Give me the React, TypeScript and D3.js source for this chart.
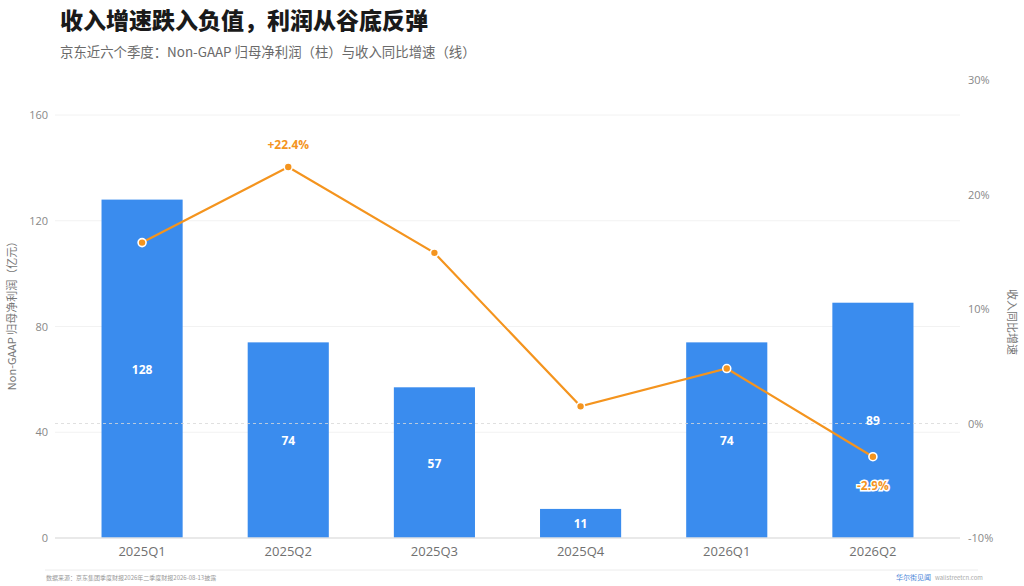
import * as d3 from 'd3';

const quarters = ['2025Q1', '2025Q2', '2025Q3', '2025Q4', '2026Q1', '2026Q2'];
const profit = [128, 74, 57, 11, 74, 89];
const growth = [15.8, 22.4, 14.9, 1.5, 4.8, -2.9];
const profitTicks = [0, 40, 80, 120, 160];
const growthTicks = [-10, 0, 10, 20, 30];

const W = 1024;
const H = 586;
const FONT = '"Noto Sans CJK SC", "Noto Sans", sans-serif';
const TICK_FONT = '"Open Sans", "Noto Sans CJK SC", sans-serif';
const BLUE = '#3a8cee';
const ORANGE = '#f4941e';

export default function App() {
  const x = d3.scaleBand<string>().domain(quarters).range([69, 946]).paddingInner(0.445).paddingOuter(0.2225);
  const yL = d3.scaleLinear().domain([0, 160]).range([538, 115]);
  const yR = d3.scaleLinear().domain([-10, 30]).range([538, 80]);
  const cx = (q: string) => (x(q) ?? 0) + x.bandwidth() / 2;
  const line = d3
    .line<number>()
    .x((_, i) => cx(quarters[i]))
    .y((d) => yR(d));

  return (
    <svg width={W} height={H} style={{ position: 'absolute', left: 0, top: 0, background: '#fff' }} fontFamily={FONT}>
      <text x={60} y={29} fontSize={23} fontWeight={900} fill="#1a1a1a">
        收入增速跌入负值，利润从谷底反弹
      </text>
      <text x={60} y={57} fontSize={13.4} fill="#6a6a6a">
        京东近六个季度：Non-GAAP 归母净利润（柱）与收入同比增速（线）
      </text>

      {/* grid */}
      {profitTicks.slice(1).map((t) => (
        <line key={t} x1={55} x2={960} y1={yL(t)} y2={yL(t)} stroke="#f2f2f2" />
      ))}
      {profitTicks.map((t) => (
        <text key={t} x={48} y={yL(t) + 4} fontSize={11} fill="#888" textAnchor="end" fontFamily={TICK_FONT}>
          {t}
        </text>
      ))}
      {growthTicks.map((t) => (
        <text key={t} x={968} y={yR(t) + 4} fontSize={11} fill="#888" fontFamily={TICK_FONT}>
          {t}%
        </text>
      ))}

      {/* bars */}
      {quarters.map((q, i) => (
        <rect key={q} x={x(q)} y={yL(profit[i])} width={x.bandwidth()} height={yL(0) - yL(profit[i])} fill={BLUE} />
      ))}
      <line x1={55} x2={960} y1={yR(0)} y2={yR(0)} stroke="#d8d8d8" strokeDasharray="3,3" strokeOpacity={0.8} />
      <line x1={55} x2={960} y1={yL(0)} y2={yL(0)} stroke="#e2e2e2" strokeWidth={1.5} />
      {quarters.map((q, i) => (
        <text
          key={q}
          x={cx(q)}
          y={(yL(profit[i]) + yL(0)) / 2 + 5}
          fontSize={12}
          fontWeight={700}
          fill="#fff"
          textAnchor="middle"
          fontFamily={TICK_FONT}
        >
          {profit[i]}
        </text>
      ))}

      {/* line */}
      <path d={line(growth) ?? ''} fill="none" stroke={ORANGE} strokeWidth={2.2} />
      {growth.map((g, i) => (
        <circle key={i} cx={cx(quarters[i])} cy={yR(g)} r={4} fill={ORANGE} stroke="#fff" strokeWidth={1.6} />
      ))}
      <text
        x={cx(quarters[1])}
        y={yR(growth[1]) - 18}
        fontSize={12}
        fontWeight={700}
        fill={ORANGE}
        textAnchor="middle"
        fontFamily={TICK_FONT}
      >
        +{growth[1]}%
      </text>
      <text
        x={cx(quarters[5])}
        y={yR(growth[5]) + 33}
        fontSize={12}
        fontWeight={700}
        fill={ORANGE}
        stroke="#fff"
        strokeWidth={3}
        paintOrder="stroke"
        textAnchor="middle"
        fontFamily={TICK_FONT}
      >
        {growth[5]}%
      </text>

      {/* x axis labels */}
      {quarters.map((q) => (
        <text key={q} x={cx(q)} y={556} fontSize={13} fill="#707070" textAnchor="middle" fontFamily={TICK_FONT}>
          {q}
        </text>
      ))}

      {/* axis titles */}
      <text transform={`translate(16, ${yL(0) - 225}) rotate(-90)`} fontSize={11} fill="#777" textAnchor="middle">
        Non-GAAP 归母净利润（亿元）
      </text>
      <text transform={`translate(1008, 322) rotate(90)`} fontSize={11} fill="#777" textAnchor="middle">
        收入同比增速
      </text>

      {/* footer */}
      <line x1={45} x2={978} y1={570} y2={570} stroke="#ececec" />
      <text x={46} y={580} fontSize={6} fill="#999">
        数据来源：京东集团季度财报2026年二季度财报2026-08-13披露
      </text>
      <text x={896} y={580} fontSize={7} fill="#4a86d8">
        华尔街见闻
      </text>
      <text x={935} y={580} fontSize={6} fill="#aaa">
        wallstreetcn.com
      </text>
    </svg>
  );
}
